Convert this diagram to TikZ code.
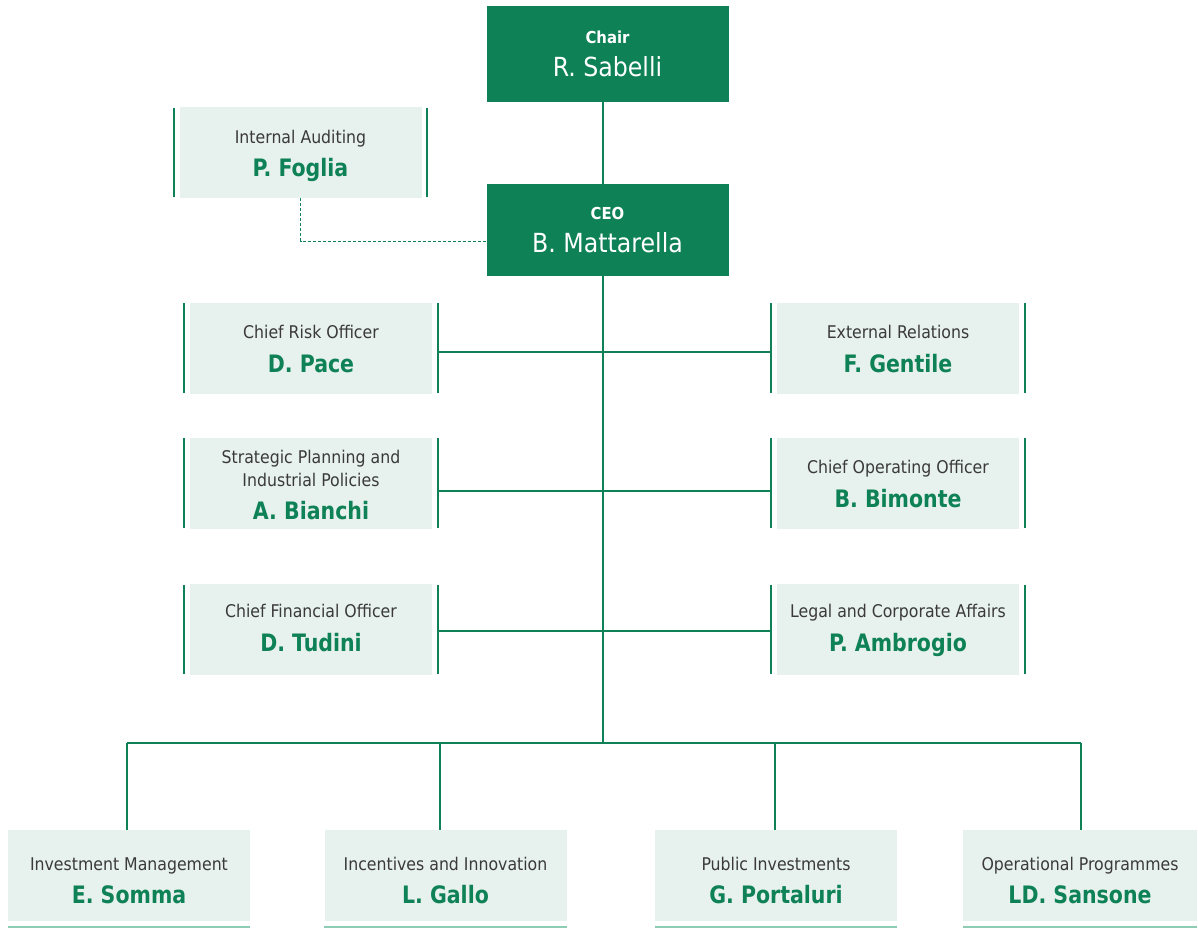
\documentclass[tikz,border=0pt]{standalone}
\usepackage{fontspec}
\setmainfont{DejaVu Sans Condensed}
\newfontfamily\personfont[FakeStretch=0.95]{DejaVu Sans Condensed}
\usetikzlibrary{calc}
\definecolor{brand}{HTML}{0E8256}
\definecolor{pale}{HTML}{E7F1EE}
\definecolor{softline}{HTML}{8ECDB4}
\definecolor{ink}{HTML}{3A3A3A}
\pgfdeclarelayer{background}
\pgfsetlayers{background,main}

% a light unit box with its role above the person's name;
% #6 and #7 lift the two baselines from the box centre
\newcommand\unitbox[7]{%
  \node[unit] (#1) at (#2,#3) {};
  \node[role] (#1-r) at ([yshift=#6pt]#1.center) {#4};
  \node[person] (#1-n) at ([yshift=#7pt]#1.center) {#5};
}
% green bars at both sides of a unit box
\newcommand\sidebars[1]{%
  \draw[bar] ([xshift=-5.5pt,yshift=-1pt]#1.north west) -- ([xshift=-5.5pt,yshift=1pt]#1.south west);
  \draw[bar] ([xshift=5.5pt,yshift=-1pt]#1.north east) -- ([xshift=5.5pt,yshift=1pt]#1.south east);
}
% pale rule under a bottom unit box
\newcommand\underrule[1]{%
  \draw[under] ([yshift=-6pt]#1.south west) -- ([yshift=-6pt]#1.south east);
}

\begin{document}
\begin{tikzpicture}[x=1pt,y=-1pt,
  head/.style={fill=brand, text=white, minimum width=242pt, inner sep=0pt, draw=none},
  unit/.style={fill=pale, minimum width=242pt, minimum height=91pt, inner sep=0pt},
  role/.style={text=ink, font=\fontsize{17.5}{21}\selectfont, anchor=base, inner sep=0pt},
  person/.style={text=brand, font=\personfont\fontsize{24}{27}\selectfont\bfseries, anchor=base, inner sep=0pt},
  headrole/.style={text=white, font=\fontsize{16.5}{18}\selectfont\bfseries, anchor=base, inner sep=0pt},
  headname/.style={text=white, font=\fontsize{26.3}{30}\selectfont, anchor=base, inner sep=0pt},
  bar/.style={draw=brand, line width=2pt},
  link/.style={draw=brand, line width=1.5pt},
  staff/.style={draw=brand, line width=1pt, dash pattern=on 3pt off 2pt},
  under/.style={draw=softline, line width=2pt},
]
\useasboundingbox (0,0) rectangle (1198,929);

% top management
\node[head, minimum height=96pt] (chair) at (607.5,54) {};
\node[headrole] (chair-r) at ([yshift=10.7pt]chair.center) {Chair};
\node[headname] (chair-n) at ([yshift=-22.7pt]chair.center) {R. Sabelli};

\node[head, minimum height=92pt] (ceo) at (607.5,230) {};
\node[headrole] (ceo-r) at ([yshift=10.5pt]ceo.center) {CEO};
\node[headname] (ceo-n) at ([yshift=-22.5pt]ceo.center) {B. Mattarella};

% staff function
\unitbox{audit}{300.5}{152.5}{Internal Auditing}{P. Foglia}{9}{-23.5}
\sidebars{audit}

% left column
\unitbox{cro}{311}{348}{Chief Risk Officer}{D. Pace}{10}{-24}
\sidebars{cro}
\node[unit] (spp) at (311,483) {};
\node[role] (spp-r1) at ([yshift=19.7pt]spp.center) {Strategic Planning and};
\node[role] (spp-r2) at ([yshift=-3pt]spp.center) {Industrial Policies};
\node[person] (spp-n) at ([yshift=-36pt]spp.center) {A. Bianchi};
\sidebars{spp}
\unitbox{cfo}{311}{629.5}{Chief Financial Officer}{D. Tudini}{12.5}{-21.5}
\sidebars{cfo}

% right column
\unitbox{ext}{898}{348}{External Relations}{F. Gentile}{10}{-24}
\sidebars{ext}
\unitbox{coo}{898}{483}{Chief Operating Officer}{B. Bimonte}{10}{-24}
\sidebars{coo}
\unitbox{legal}{898}{629.5}{Legal and Corporate Affairs}{P. Ambrogio}{12.5}{-21.5}
\sidebars{legal}

% bottom row
\unitbox{inv}{129}{875.5}{Investment Management}{E. Somma}{5.5}{-27.5}
\unitbox{inc}{445.5}{875.5}{Incentives and Innovation}{L. Gallo}{5.5}{-27.5}
\unitbox{pub}{776}{875.5}{Public Investments}{G. Portaluri}{5.5}{-27.5}
\node[unit, minimum width=234pt] (ops) at (1080,875.5) {};
\node[role] (ops-r) at ([yshift=5.5pt]ops.center) {Operational Programmes};
\node[person] (ops-n) at ([yshift=-27.5pt]ops.center) {LD. Sansone};
\underrule{inv}
\underrule{inc}
\underrule{pub}
\underrule{ops}

% reporting lines
\coordinate (row1) at (603,352);
\coordinate (row2) at (603,491);
\coordinate (row3) at (603,631);
\coordinate (bus) at (603,743);
\coordinate (d1) at (127,743);
\coordinate (d2) at (440,743);
\coordinate (d3) at (775,743);
\coordinate (d4) at (1081,743);
\coordinate (staffturn) at (300.5,241);
\coordinate (crobar) at ([xshift=5.5pt]cro.east);
\coordinate (sppbar) at ([xshift=5.5pt]spp.east);
\coordinate (cfobar) at ([xshift=5.5pt]cfo.east);
\coordinate (extbar) at ([xshift=-5.5pt]ext.west);
\coordinate (coobar) at ([xshift=-5.5pt]coo.west);
\coordinate (legalbar) at ([xshift=-5.5pt]legal.west);

\begin{pgfonlayer}{background}
  \draw[link] (chair.south -| bus) -- (bus);
  \draw[link] (crobar |- row1) -- (extbar |- row1);
  \draw[link] (sppbar |- row2) -- (coobar |- row2);
  \draw[link] (cfobar |- row3) -- (legalbar |- row3);
  \draw[link] (d1) -- (d4);
  \draw[link] (d1) -- (d1 |- inv.north);
  \draw[link] (d2) -- (d2 |- inc.north);
  \draw[link] (d3) -- (d3 |- pub.north);
  \draw[link] (d4) -- (d4 |- ops.north);
  \draw[staff] (audit.south) -- (staffturn) -- (staffturn -| ceo.west);
\end{pgfonlayer}
\end{tikzpicture}
\end{document}
